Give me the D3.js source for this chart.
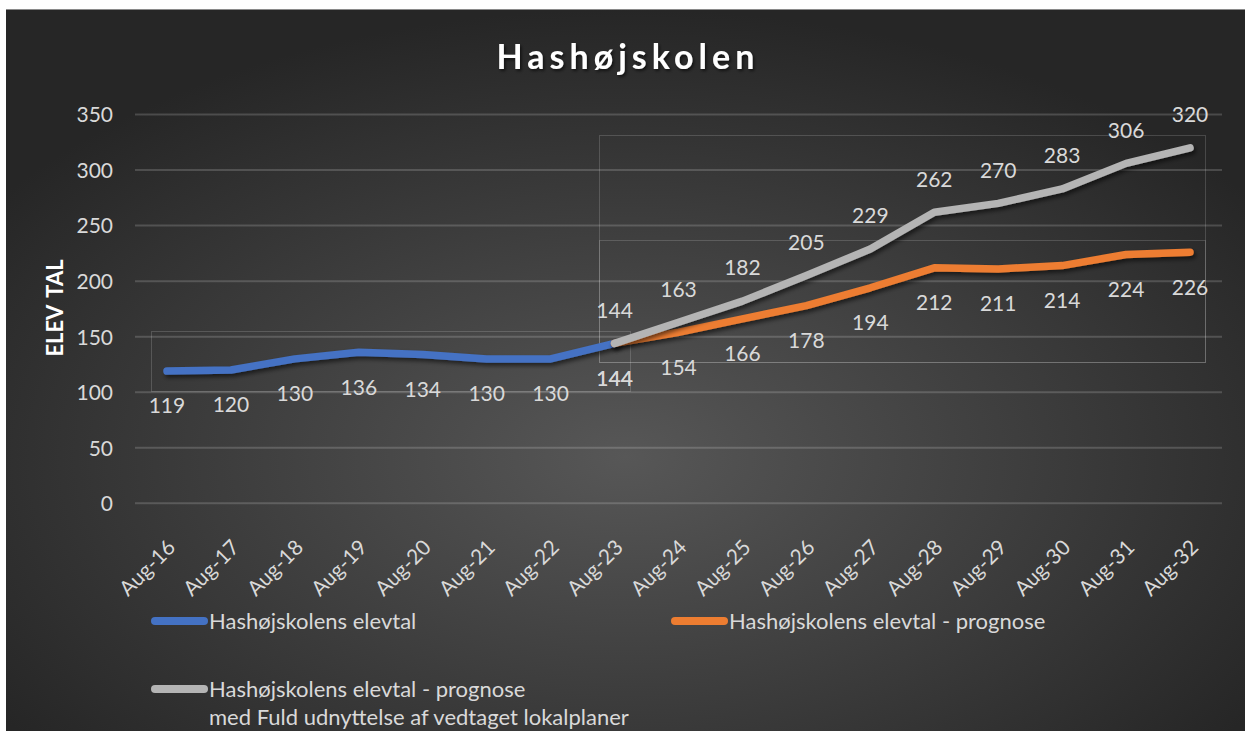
<!DOCTYPE html>
<html>
<head>
<meta charset="utf-8">
<script src="https://cdn.jsdelivr.net/npm/d3@7"></script>
<style>
  html, body { margin: 0; padding: 0; background: #ffffff; }
  svg { display: block; }
  text { font-family: Lato, "Open Sans", sans-serif; }
</style>
</head>
<body>
<svg id="chart" width="1245" height="731"></svg>
<script>
// ---- data ----
const categories = ["Aug-16","Aug-17","Aug-18","Aug-19","Aug-20","Aug-21","Aug-22","Aug-23","Aug-24","Aug-25","Aug-26","Aug-27","Aug-28","Aug-29","Aug-30","Aug-31","Aug-32"];
const actualCats = ["Aug-16","Aug-17","Aug-18","Aug-19","Aug-20","Aug-21","Aug-22","Aug-23"];
const actualValues = [119,120,130,136,134,130,130,144];
const forecastCats = ["Aug-23","Aug-24","Aug-25","Aug-26","Aug-27","Aug-28","Aug-29","Aug-30","Aug-31","Aug-32"];
const forecastValues = [144,154,166,178,194,212,211,214,224,226];
const fullCats = ["Aug-23","Aug-24","Aug-25","Aug-26","Aug-27","Aug-28","Aug-29","Aug-30","Aug-31","Aug-32"];
const fullValues = [144,163,182,205,229,262,270,283,306,320];
const yTicks = [0,50,100,150,200,250,300,350];
const seriesNames = ["Hashøjskolens elevtal", "Hashøjskolens elevtal - prognose", "Hashøjskolens elevtal - prognose", "med Fuld udnyttelse af vedtaget lokalplaner"];
const chartTitle = "Hashøjskolen";
const yTitle = "ELEV TAL";

const svg = d3.select("#chart");
const defs = svg.append("defs");

// background gradient
const rg = defs.append("radialGradient").attr("id","bg")
  .attr("cx","50%").attr("cy","62%").attr("r","62%");
rg.append("stop").attr("offset","0%").attr("stop-color","#575757");
rg.append("stop").attr("offset","100%").attr("stop-color","#262626");

const sh = defs.append("filter").attr("id","shadow")
  .attr("x","-10%").attr("y","-30%").attr("width","130%").attr("height","180%");
sh.append("feDropShadow").attr("dx",2).attr("dy",3).attr("stdDeviation",2)
  .attr("flood-color","#000").attr("flood-opacity",0.55);

const tsh = defs.append("filter").attr("id","tshadow")
  .attr("x","-10%").attr("y","-30%").attr("width","130%").attr("height","180%");
tsh.append("feDropShadow").attr("dx",1.5).attr("dy",2).attr("stdDeviation",1.5)
  .attr("flood-color","#000").attr("flood-opacity",0.6);

svg.append("rect").attr("x",6).attr("y",9).attr("width",1239).attr("height",722)
  .attr("fill","url(#bg)");
svg.append("line").attr("x1",6).attr("x2",1245).attr("y1",9.5).attr("y2",9.5)
  .attr("stroke","#8a8a8a").attr("stroke-width",1);

// scales
const x = d3.scaleBand().domain(categories).range([135,1222]);
const cx = c => x(c) + x.bandwidth()/2;
const y = d3.scaleLinear().domain([0,350]).range([503.3,114.5]);

// gridlines
svg.append("g").selectAll("line").data(yTicks).join("line")
  .attr("x1",135).attr("x2",1222)
  .attr("y1",d=>y(d)).attr("y2",d=>y(d))
  .attr("stroke","rgba(255,255,255,0.17)").attr("stroke-width",2);

// leftover text-box outlines
const boxes = [[151,331,630,391],[599,135,1205,362],[599,240,1205,362]];
svg.append("g").selectAll("rect").data(boxes).join("rect")
  .attr("x",d=>d[0]+0.5).attr("y",d=>d[1]+0.5)
  .attr("width",d=>d[2]-d[0]).attr("height",d=>d[3]-d[1])
  .attr("fill","none").attr("stroke","rgba(255,255,255,0.16)").attr("stroke-width",1);

// y axis
const yAxis = d3.axisLeft(y).tickValues(yTicks).tickSize(0).tickPadding(0);
const yg = svg.append("g").attr("transform","translate(113,0)").call(yAxis);
yg.select(".domain").remove();
yg.selectAll("text").attr("fill","#d9d9d9").style("font-size","21px")
  .style("font-family","Lato, sans-serif").attr("dy","0.35em");

// x axis
const xAxis = d3.axisBottom(x).tickSize(0).tickPadding(0);
const xg = svg.append("g").call(xAxis);
xg.select(".domain").remove();
xg.selectAll(".tick").attr("transform", d => `translate(${cx(d)-1},538)`);
xg.selectAll("text")
  .attr("fill","#d9d9d9").style("font-size","21px").style("font-family","Lato, sans-serif")
  .attr("text-anchor","end")
  .attr("transform","rotate(-45)")
  .attr("dy","0.72em").attr("y",0).attr("x",0);

// lines
const line = d3.line().x(d=>cx(d.c)).y(d=>y(d.v));
const series = [
  {cats: actualCats, vals: actualValues, color:"#4472C4", pos:"below"},
  {cats: forecastCats, vals: forecastValues, color:"#ED7D31", pos:"below"},
  {cats: fullCats, vals: fullValues, color:"#B4B4B4", pos:"above"}
];
series.forEach(s=>{
  const pts = s.cats.map((c,i)=>({c, v:s.vals[i]}));
  svg.append("path").datum(pts).attr("d",line)
    .attr("fill","none").attr("stroke",s.color).attr("stroke-width",7.5)
    .attr("stroke-linecap","round").attr("stroke-linejoin","round")
    .attr("filter","url(#shadow)");
});
// labels
series.forEach(s=>{
  const pts = s.cats.map((c,i)=>({c, v:s.vals[i]}));
  svg.append("g").selectAll("text").data(pts).join("text")
    .attr("x",d=>cx(d.c))
    .attr("y",d=>y(d.v) + (s.pos==="above" ? -33 : 35))
    .attr("dy","0.35em")
    .attr("text-anchor","middle")
    .attr("fill","#d9d9d9").style("font-size","21px")
    .text(d=>d.v);
});

// title
svg.append("text").attr("x",628).attr("y",69).attr("text-anchor","middle")
  .attr("fill","#ffffff").style("font-size","34px").style("font-weight","bold")
  .style("letter-spacing","5px").attr("filter","url(#tshadow)").text(chartTitle);

// y title
svg.append("text").attr("transform","translate(63,308) rotate(-90)")
  .attr("text-anchor","middle").attr("fill","#ffffff")
  .style("font-size","22px").style("font-weight","bold")
  .style("word-spacing","3px").text(yTitle);

// legend
const legend = [
  {x:151, y:621, color:"#4472C4", lines:[seriesNames[0]]},
  {x:671, y:621, color:"#ED7D31", lines:[seriesNames[1]]},
  {x:151, y:689, color:"#B4B4B4", lines:[seriesNames[2], seriesNames[3]]}
];
legend.forEach(l=>{
  svg.append("line").attr("x1",l.x+4).attr("x2",l.x+53).attr("y1",l.y).attr("y2",l.y)
    .attr("stroke",l.color).attr("stroke-width",8).attr("stroke-linecap","round");
  const tx = svg.append("text").attr("x",l.x+58).attr("y",l.y)
    .attr("fill","#d9d9d9").style("font-size","22px");
  l.lines.forEach((s,i)=>{
    tx.append("tspan").attr("x",l.x+58).attr("dy", i===0 ? "0.35em" : "28px").text(s);
  });
});
</script>
</body>
</html>
